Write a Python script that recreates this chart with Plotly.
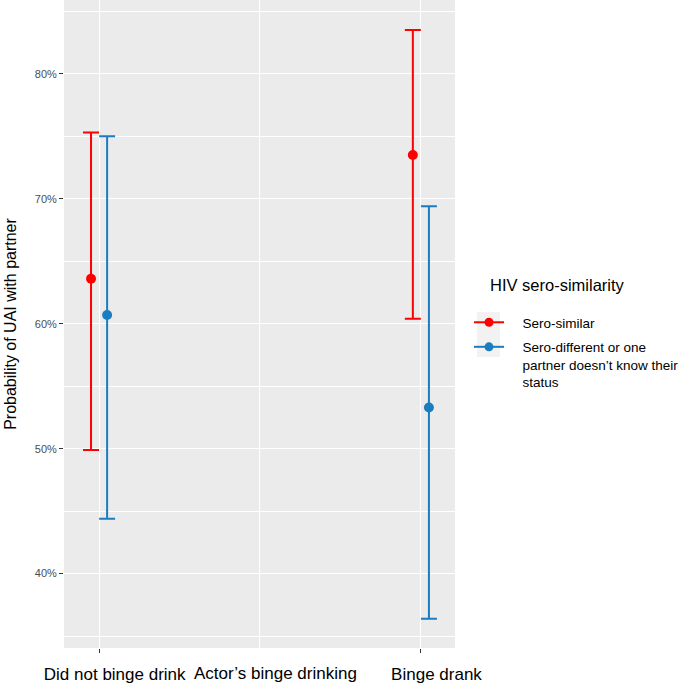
import plotly.graph_objects as go

# Data
categories = ["Did not binge drink", "Binge drank"]
cat_pos = [0, 1]
x_title = "Actor’s binge drinking"
legend_title = "HIV sero-similarity"
series_names = ["Sero-similar", "Sero-different or one<br>partner doesn’t know their<br>status"]
series_colors = ["#FF0000", "#1B7DC0"]
est = [[63.6, 73.5], [60.7, 53.3]]
lower = [[49.9, 60.4], [44.4, 36.4]]
upper = [[75.3, 83.5], [75.0, 69.4]]
dodge = [-0.025, 0.025]
y_ticks = [40, 50, 60, 70, 80]

FONT = "Liberation Sans, Arial, sans-serif"
PAD = "\u2002\u2002"
TICKPAD = "\u2002\u2002\u2002\u2004"
L, R, T, B = 64, 230, 0, 36
W, H = 685, 684
PW, PH = W - L - R, H - T - B


def px_x(px):
    return (px - L) / PW


def px_y(py):
    return 1 - (py - T) / PH


fig = go.Figure()
for i in range(2):
    xs = [p + dodge[i] for p in cat_pos]
    fig.add_trace(go.Scatter(
        x=xs, y=est[i], mode="markers",
        marker=dict(color=series_colors[i], size=10),
        error_y=dict(type="data", symmetric=False,
                     array=[u - e for u, e in zip(upper[i], est[i])],
                     arrayminus=[e - l for e, l in zip(est[i], lower[i])],
                     color=series_colors[i], thickness=2, width=8),
        showlegend=False, hoverinfo="skip"))
    # legend key (point-range look)
    label = "<br>".join(PAD + s for s in series_names[i].split("<br>"))
    fig.add_trace(go.Scatter(
        x=[None], y=[None], mode="lines+markers", name=label,
        legendgroup=f"g{i}",
        marker=dict(color=series_colors[i], size=9),
        line=dict(color=series_colors[i], width=2)))

fig.add_annotation(x=0.5, xref="x", xshift=16, y=px_y(673), yref="paper",
                   text=x_title, showarrow=False, yanchor="middle",
                   font=dict(size=17, color="black", family=FONT))
fig.add_annotation(x=px_x(488), xref="paper", y=px_y(285), yref="paper",
                   text=legend_title, showarrow=False, xanchor="left", yanchor="middle",
                   font=dict(size=16.5, color="black", family=FONT))
# grey legend-key background
fig.add_shape(type="rect", xref="paper", yref="paper",
              x0=px_x(477), x1=px_x(500), y0=px_y(357), y1=px_y(312),
              fillcolor="#F2F2F2", line=dict(width=0), layer="below")

fig.update_layout(
    width=W, height=H,
    margin=dict(l=L, r=R, t=T, b=B, autoexpand=False),
    paper_bgcolor="white", plot_bgcolor="#EBEBEB",
    font=dict(family=FONT),
    legend=dict(
        font=dict(size=13.5, color="black"),
        x=px_x(469), xanchor="left", y=px_y(307), yanchor="top",
        bgcolor="rgba(0,0,0,0)", tracegroupgap=4, valign="top"),
)
fig.update_xaxes(
    range=[-0.109, 1.106], tickvals=cat_pos, ticktext=[TICKPAD + c for c in categories],
    showgrid=True, gridcolor="white", gridwidth=1.2, zeroline=False,
    ticks="outside", ticklen=4, tickcolor="#333333", automargin=False,
    tickfont=dict(size=17, color="black"), ticklabelstandoff=7,
    minor=dict(tickvals=[0.5], showgrid=True, gridcolor="white", gridwidth=0.6, ticks=""),
)
fig.update_yaxes(
    range=[34.05, 85.9], tickvals=y_ticks, ticktext=[f"{v}%" for v in y_ticks],
    showgrid=True, gridcolor="white", gridwidth=1.2, zeroline=False,
    ticks="outside", ticklen=4, tickcolor="#333333", automargin=False,
    tickfont=dict(size=11, color="#4D4D4D"),
    minor=dict(dtick=5, tick0=35, showgrid=True, gridcolor="white", gridwidth=0.6, ticks=""),
    title=dict(text="Probability of UAI with partner", font=dict(size=16, color="black"), standoff=14),
)
fig.write_html("out.html", config={"displayModeBar": False},
               post_script="document.body.style.margin='0';")
